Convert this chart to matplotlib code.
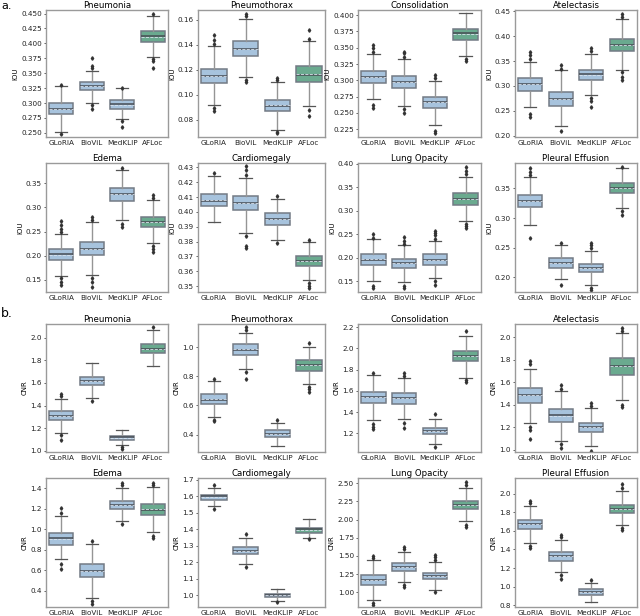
import matplotlib
matplotlib.use("Agg")
import matplotlib.pyplot as plt
import numpy as np

models = ["GLoRIA", "BioViL", "MedKLIP", "AFLoc"]
diseases = ["Pneumonia", "Pneumothorax", "Consolidation", "Atelectasis",
            "Edema", "Cardiomegaly", "Lung Opacity", "Pleural Effusion"]

# box stats per disease, per model: (whislo, q1, med, q3, whishi)
iou_stats = [
    [(0.251, 0.281, 0.290, 0.300, 0.328), (0.300, 0.321, 0.328, 0.335, 0.354),
     (0.273, 0.290, 0.298, 0.305, 0.325), (0.378, 0.403, 0.412, 0.420, 0.446)],
    [(0.092, 0.109, 0.115, 0.121, 0.139), (0.114, 0.131, 0.137, 0.143, 0.161),
     (0.072, 0.087, 0.091, 0.096, 0.110), (0.091, 0.110, 0.116, 0.123, 0.143)],
    [(0.271, 0.296, 0.305, 0.314, 0.340), (0.260, 0.288, 0.297, 0.306, 0.332),
     (0.231, 0.257, 0.266, 0.275, 0.299), (0.337, 0.362, 0.372, 0.379, 0.404)],
    [(0.257, 0.290, 0.304, 0.316, 0.349), (0.219, 0.260, 0.274, 0.288, 0.332),
     (0.282, 0.312, 0.323, 0.333, 0.365), (0.333, 0.370, 0.383, 0.395, 0.434)],
    [(0.158, 0.191, 0.203, 0.213, 0.246), (0.161, 0.201, 0.215, 0.229, 0.270),
     (0.275, 0.314, 0.328, 0.340, 0.377), (0.226, 0.259, 0.270, 0.281, 0.315)],
    [(0.393, 0.404, 0.4075, 0.412, 0.424), (0.386, 0.401, 0.406, 0.411, 0.423),
     (0.381, 0.391, 0.395, 0.399, 0.409), (0.354, 0.3635, 0.367, 0.370, 0.380)],
    [(0.151, 0.185, 0.196, 0.209, 0.240), (0.148, 0.178, 0.188, 0.198, 0.227),
     (0.157, 0.185, 0.196, 0.207, 0.236), (0.279, 0.313, 0.325, 0.339, 0.373)],
    [(0.289, 0.319, 0.329, 0.339, 0.369), (0.197, 0.216, 0.224, 0.232, 0.254),
     (0.187, 0.209, 0.216, 0.223, 0.245), (0.317, 0.342, 0.350, 0.359, 0.384)],
]
iou_fliers = [
    [[0.248, 0.330], [0.290, 0.296, 0.358, 0.362, 0.375], [0.270, 0.259, 0.326], [0.374, 0.371, 0.359, 0.449]],
    [[0.089, 0.087, 0.141, 0.144, 0.148], [0.110, 0.112, 0.163, 0.165], [0.069, 0.070, 0.112, 0.113], [0.088, 0.083, 0.145, 0.152]],
    [[0.262, 0.258, 0.343, 0.350, 0.355], [0.256, 0.250, 0.336, 0.342, 0.344], [0.222, 0.219, 0.303, 0.308], [0.333, 0.329]],
    [[0.244, 0.238, 0.355, 0.362, 0.368], [0.210, 0.334, 0.342], [0.276, 0.270, 0.258, 0.370, 0.376], [0.328, 0.318, 0.312, 0.438, 0.445]],
    [[0.153, 0.145, 0.140, 0.250, 0.255, 0.263, 0.272], [0.155, 0.145, 0.136, 0.275, 0.280], [0.266, 0.260, 0.382], [0.220, 0.213, 0.208, 0.320, 0.325]],
    [[0.426], [0.384, 0.377, 0.376, 0.425, 0.428, 0.431], [0.379, 0.411], [0.352, 0.350, 0.349, 0.381]],
    [[0.140, 0.135, 0.243, 0.250], [0.140, 0.136, 0.230, 0.235, 0.244], [0.150, 0.142, 0.240, 0.248, 0.253, 0.258], [0.273, 0.268, 0.263, 0.378, 0.386, 0.393]],
    [[0.266, 0.372, 0.378, 0.384], [0.187, 0.257], [0.182, 0.179, 0.250, 0.255, 0.258], [0.312, 0.305, 0.386]],
]
iou_ylims = [(0.243, 0.456), (0.066, 0.168), (0.213, 0.408), (0.197, 0.453),
             (0.125, 0.392), (0.346, 0.433), (0.127, 0.402), (0.175, 0.393)]
iou_ticks = [np.arange(0.25, 0.451, 0.025), np.arange(0.08, 0.161, 0.02), np.arange(0.225, 0.401, 0.025),
             np.arange(0.20, 0.451, 0.05), np.arange(0.15, 0.351, 0.05), np.arange(0.35, 0.431, 0.01),
             np.arange(0.15, 0.401, 0.05), np.arange(0.20, 0.351, 0.05)]
iou_fmt = ["%.3f", "%.2f", "%.3f", "%.2f", "%.2f", "%.2f", "%.2f", "%.2f"]

cnr_stats = [
    [(1.16, 1.27, 1.31, 1.35, 1.46), (1.47, 1.58, 1.62, 1.65, 1.78),
     (1.05, 1.10, 1.12, 1.13, 1.18), (1.75, 1.86, 1.90, 1.94, 2.07)],
    [(0.52, 0.61, 0.64, 0.68, 0.77), (0.85, 0.95, 0.98, 1.02, 1.10),
     (0.32, 0.38, 0.405, 0.43, 0.48), (0.75, 0.84, 0.88, 0.91, 1.00)],
    [(1.33, 1.49, 1.54, 1.59, 1.75), (1.34, 1.48, 1.53, 1.58, 1.72),
     (1.10, 1.19, 1.22, 1.25, 1.34), (1.72, 1.88, 1.93, 1.98, 2.12)],
    [(1.24, 1.42, 1.49, 1.55, 1.72), (1.08, 1.25, 1.31, 1.36, 1.52),
     (1.03, 1.16, 1.20, 1.24, 1.37), (1.44, 1.67, 1.75, 1.82, 2.04)],
    [(0.71, 0.85, 0.91, 0.96, 1.13), (0.33, 0.53, 0.59, 0.66, 0.86),
     (1.08, 1.20, 1.24, 1.28, 1.40), (0.97, 1.14, 1.19, 1.25, 1.41)],
    [(1.54, 1.58, 1.60, 1.61, 1.65), (1.19, 1.25, 1.27, 1.29, 1.35),
     (0.965, 0.99, 1.00, 1.01, 1.04), (1.35, 1.38, 1.40, 1.41, 1.46)],
    [(0.89, 1.10, 1.17, 1.24, 1.45), (1.14, 1.29, 1.35, 1.40, 1.56),
     (1.04, 1.18, 1.23, 1.27, 1.42), (1.98, 2.14, 2.20, 2.26, 2.43)],
    [(1.47, 1.62, 1.67, 1.72, 1.87), (1.16, 1.28, 1.33, 1.37, 1.50),
     (0.83, 0.91, 0.94, 0.97, 1.04), (1.66, 1.79, 1.84, 1.88, 2.03)],
]
cnr_fliers = [
    [[1.14, 1.10, 1.48, 1.50], [1.44], [1.03, 1.02], [2.09]],
    [[0.50, 0.49, 0.78], [0.83, 0.78, 1.12, 1.14], [0.50], [0.73, 0.71, 0.69, 1.03]],
    [[1.29, 1.26, 1.24, 1.77], [1.30, 1.25, 1.74, 1.77], [1.07, 1.38], [1.70, 1.68, 2.16]],
    [[1.20, 1.18, 1.10, 1.76, 1.79], [1.05, 1.02, 1.54, 1.58], [0.99, 1.39, 1.42], [1.40, 1.38, 2.06, 2.08]],
    [[0.66, 0.61, 1.16, 1.21], [0.30, 0.27, 0.88], [1.05, 1.43, 1.45], [0.93, 0.91, 1.43, 1.45]],
    [[1.52, 1.67], [1.17, 1.37], [0.96], [1.34]],
    [[0.85, 0.83, 1.47, 1.50], [1.10, 1.07, 1.59, 1.63], [1.01, 1.44, 1.48, 1.52], [1.93, 1.90, 2.48, 2.52]],
    [[1.44, 1.42, 1.90, 1.92], [1.12, 1.08, 1.53, 1.56], [1.07], [1.63, 1.61, 2.06, 2.10]],
]
cnr_ylims = [(0.99, 2.12), (0.28, 1.16), (1.025, 2.23), (0.98, 2.12),
             (0.24, 1.50), (0.93, 1.71), (0.80, 2.57), (0.78, 2.17)]
cnr_ticks = [np.arange(1.0, 2.01, 0.2), np.arange(0.4, 1.01, 0.2), np.arange(1.2, 2.21, 0.2),
             np.arange(1.0, 2.01, 0.2), np.arange(0.4, 1.41, 0.2), np.arange(1.0, 1.71, 0.1),
             np.arange(1.0, 2.51, 0.25), np.arange(0.8, 2.01, 0.2)]
cnr_fmt = ["%.1f", "%.1f", "%.1f", "%.1f", "%.1f", "%.1f", "%.2f", "%.1f"]

box_colors = ["#a7c3dd", "#a7c3dd", "#a7c3dd", "#6aaa8f"]

W, H = 640, 616
col_x = [(46, 168), (198, 325), (358, 481), (515, 637)]
row_y = [(10, 137), (163, 292), (324, 452), (478, 607)]

fig = plt.figure(figsize=(6.4, 6.16), dpi=100)


def draw_panel(ax, stats, fliers, title, ylabel, ylim, ticks, fmt):
    items = []
    for i, s in enumerate(stats):
        lo, q1, med, q3, hi = s
        items.append(dict(whislo=lo, q1=q1, med=med, q3=q3, whishi=hi,
                          mean=(q1 + q3) / 2, fliers=fliers[i], label=models[i]))
    bp = ax.bxp(items, positions=range(4), widths=0.8, patch_artist=True,
                showmeans=True, meanline=True,
                boxprops=dict(edgecolor="#737b85", linewidth=1.1),
                medianprops=dict(color="#474d54", linewidth=1.1),
                meanprops=dict(color="#dbe4ee", linewidth=0.6, linestyle="--"),
                whiskerprops=dict(color="#959595", linewidth=1.0),
                capprops=dict(color="#555555", linewidth=0.9),
                flierprops=dict(marker="d", markersize=1.8, markerfacecolor="#333333",
                                markeredgecolor="#333333"))
    for patch, c in zip(bp["boxes"], box_colors):
        patch.set_facecolor(c)
    ax.set_xlim(-0.5, 3.5)
    ax.set_ylim(*ylim)
    ax.set_yticks(ticks)
    ax.set_yticklabels([fmt % t for t in ticks])
    ax.set_xticks(range(4))
    ax.set_xticklabels(models)
    ax.tick_params(axis="x", length=0, labelsize=5.2, pad=2.5, colors="#222222")
    ax.tick_params(axis="y", length=1.5, width=0.5, labelsize=5.2, pad=1.5, colors="#222222")
    ax.set_title(title, fontsize=6.2, pad=1.5)
    ax.set_ylabel(ylabel, fontsize=5, labelpad=2)
    for sp in ax.spines.values():
        sp.set_color("#9a9a9a")
        sp.set_linewidth(1.0)


for k in range(8):
    r, c = divmod(k, 4)
    for block, (stats, fl, ylims, ticks, fmts, lab) in enumerate([
            (iou_stats, iou_fliers, iou_ylims, iou_ticks, iou_fmt, "IOU"),
            (cnr_stats, cnr_fliers, cnr_ylims, cnr_ticks, cnr_fmt, "CNR")]):
        x0, x1 = col_x[c]
        y0, y1 = row_y[block * 2 + r]
        ax = fig.add_axes([x0 / W, 1 - y1 / H, (x1 - x0) / W, (y1 - y0) / H])
        draw_panel(ax, stats[k], fl[k], diseases[k], lab, ylims[k], ticks[k], fmts[k])

fig.text(1 / W, 1 - 9 / H, "a.", fontsize=8)
fig.text(1 / W, 1 - 317 / H, "b.", fontsize=9)

fig.savefig("out.png", dpi=100)
